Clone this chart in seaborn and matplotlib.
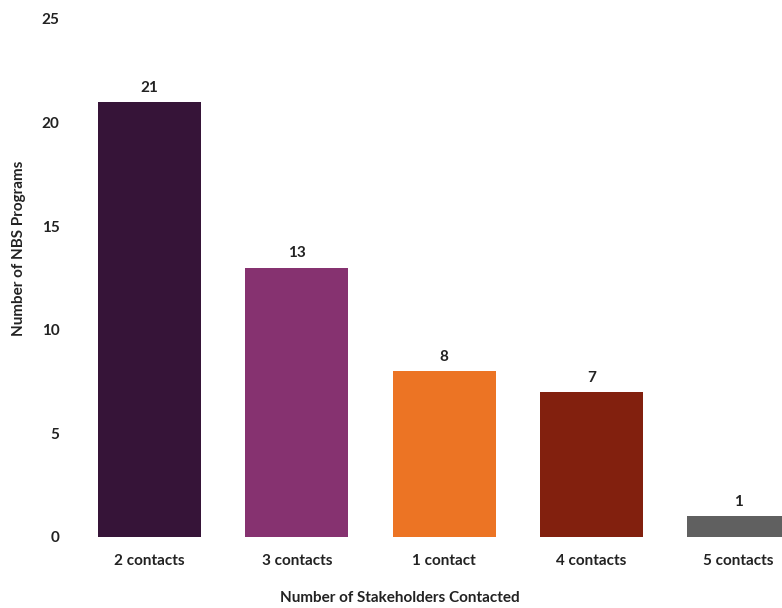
import matplotlib
matplotlib.use("Agg")
import matplotlib.pyplot as plt
import seaborn as sns
import pandas as pd

categories = ["2 contacts", "3 contacts", "1 contact", "4 contacts", "5 contacts"]
programs = [21, 13, 8, 7, 1]
bar_colors = ["#361438", "#863270", "#EC7424", "#82200E", "#606060"]

df = pd.DataFrame({"contacts": categories, "programs": programs})

sns.set_style("white")
plt.rcParams["font.family"] = ["Lato", "DejaVu Sans"]
plt.rcParams["font.weight"] = "bold"

fig = plt.figure(figsize=(7.82, 6.08), dpi=100)
ax = fig.add_axes([76 / 782, 71 / 608, 1 - 76 / 782, 518 / 608])

sns.barplot(data=df, x="contacts", y="programs", hue="contacts",
            palette=bar_colors, saturation=1, width=0.7, legend=False,
            ax=ax, edgecolor="none")

for i, v in enumerate(programs):
    ax.text(i, v + 0.35, str(v), ha="center", va="bottom",
            fontsize=11, fontweight="bold", color="#222222")

ax.set_ylim(0, 25)
ax.set_xlim(-0.5, 4.294)
ax.set_yticks([0, 5, 10, 15, 20, 25])
ax.tick_params(axis="both", length=0, labelsize=11, pad=12, colors="#222222")
for lab in ax.get_xticklabels() + ax.get_yticklabels():
    lab.set_fontweight("bold")
ax.set_xlabel("Number of Stakeholders Contacted", fontsize=11,
              fontweight="bold", color="#222222")
ax.xaxis.label.set_va("center")
ax.xaxis.set_label_coords((400 - 76) / (782 - 76), -(598 - 537) / 518)
ax.set_ylabel("Number of NBS Programs", fontsize=11, fontweight="bold",
              color="#222222")
ax.yaxis.label.set_va("center")
ax.yaxis.set_label_coords(-(76 - 19) / (782 - 76), (537 - 248) / 518)
sns.despine(left=True, bottom=True, right=True, top=True)

fig.savefig("out.png", dpi=100)
